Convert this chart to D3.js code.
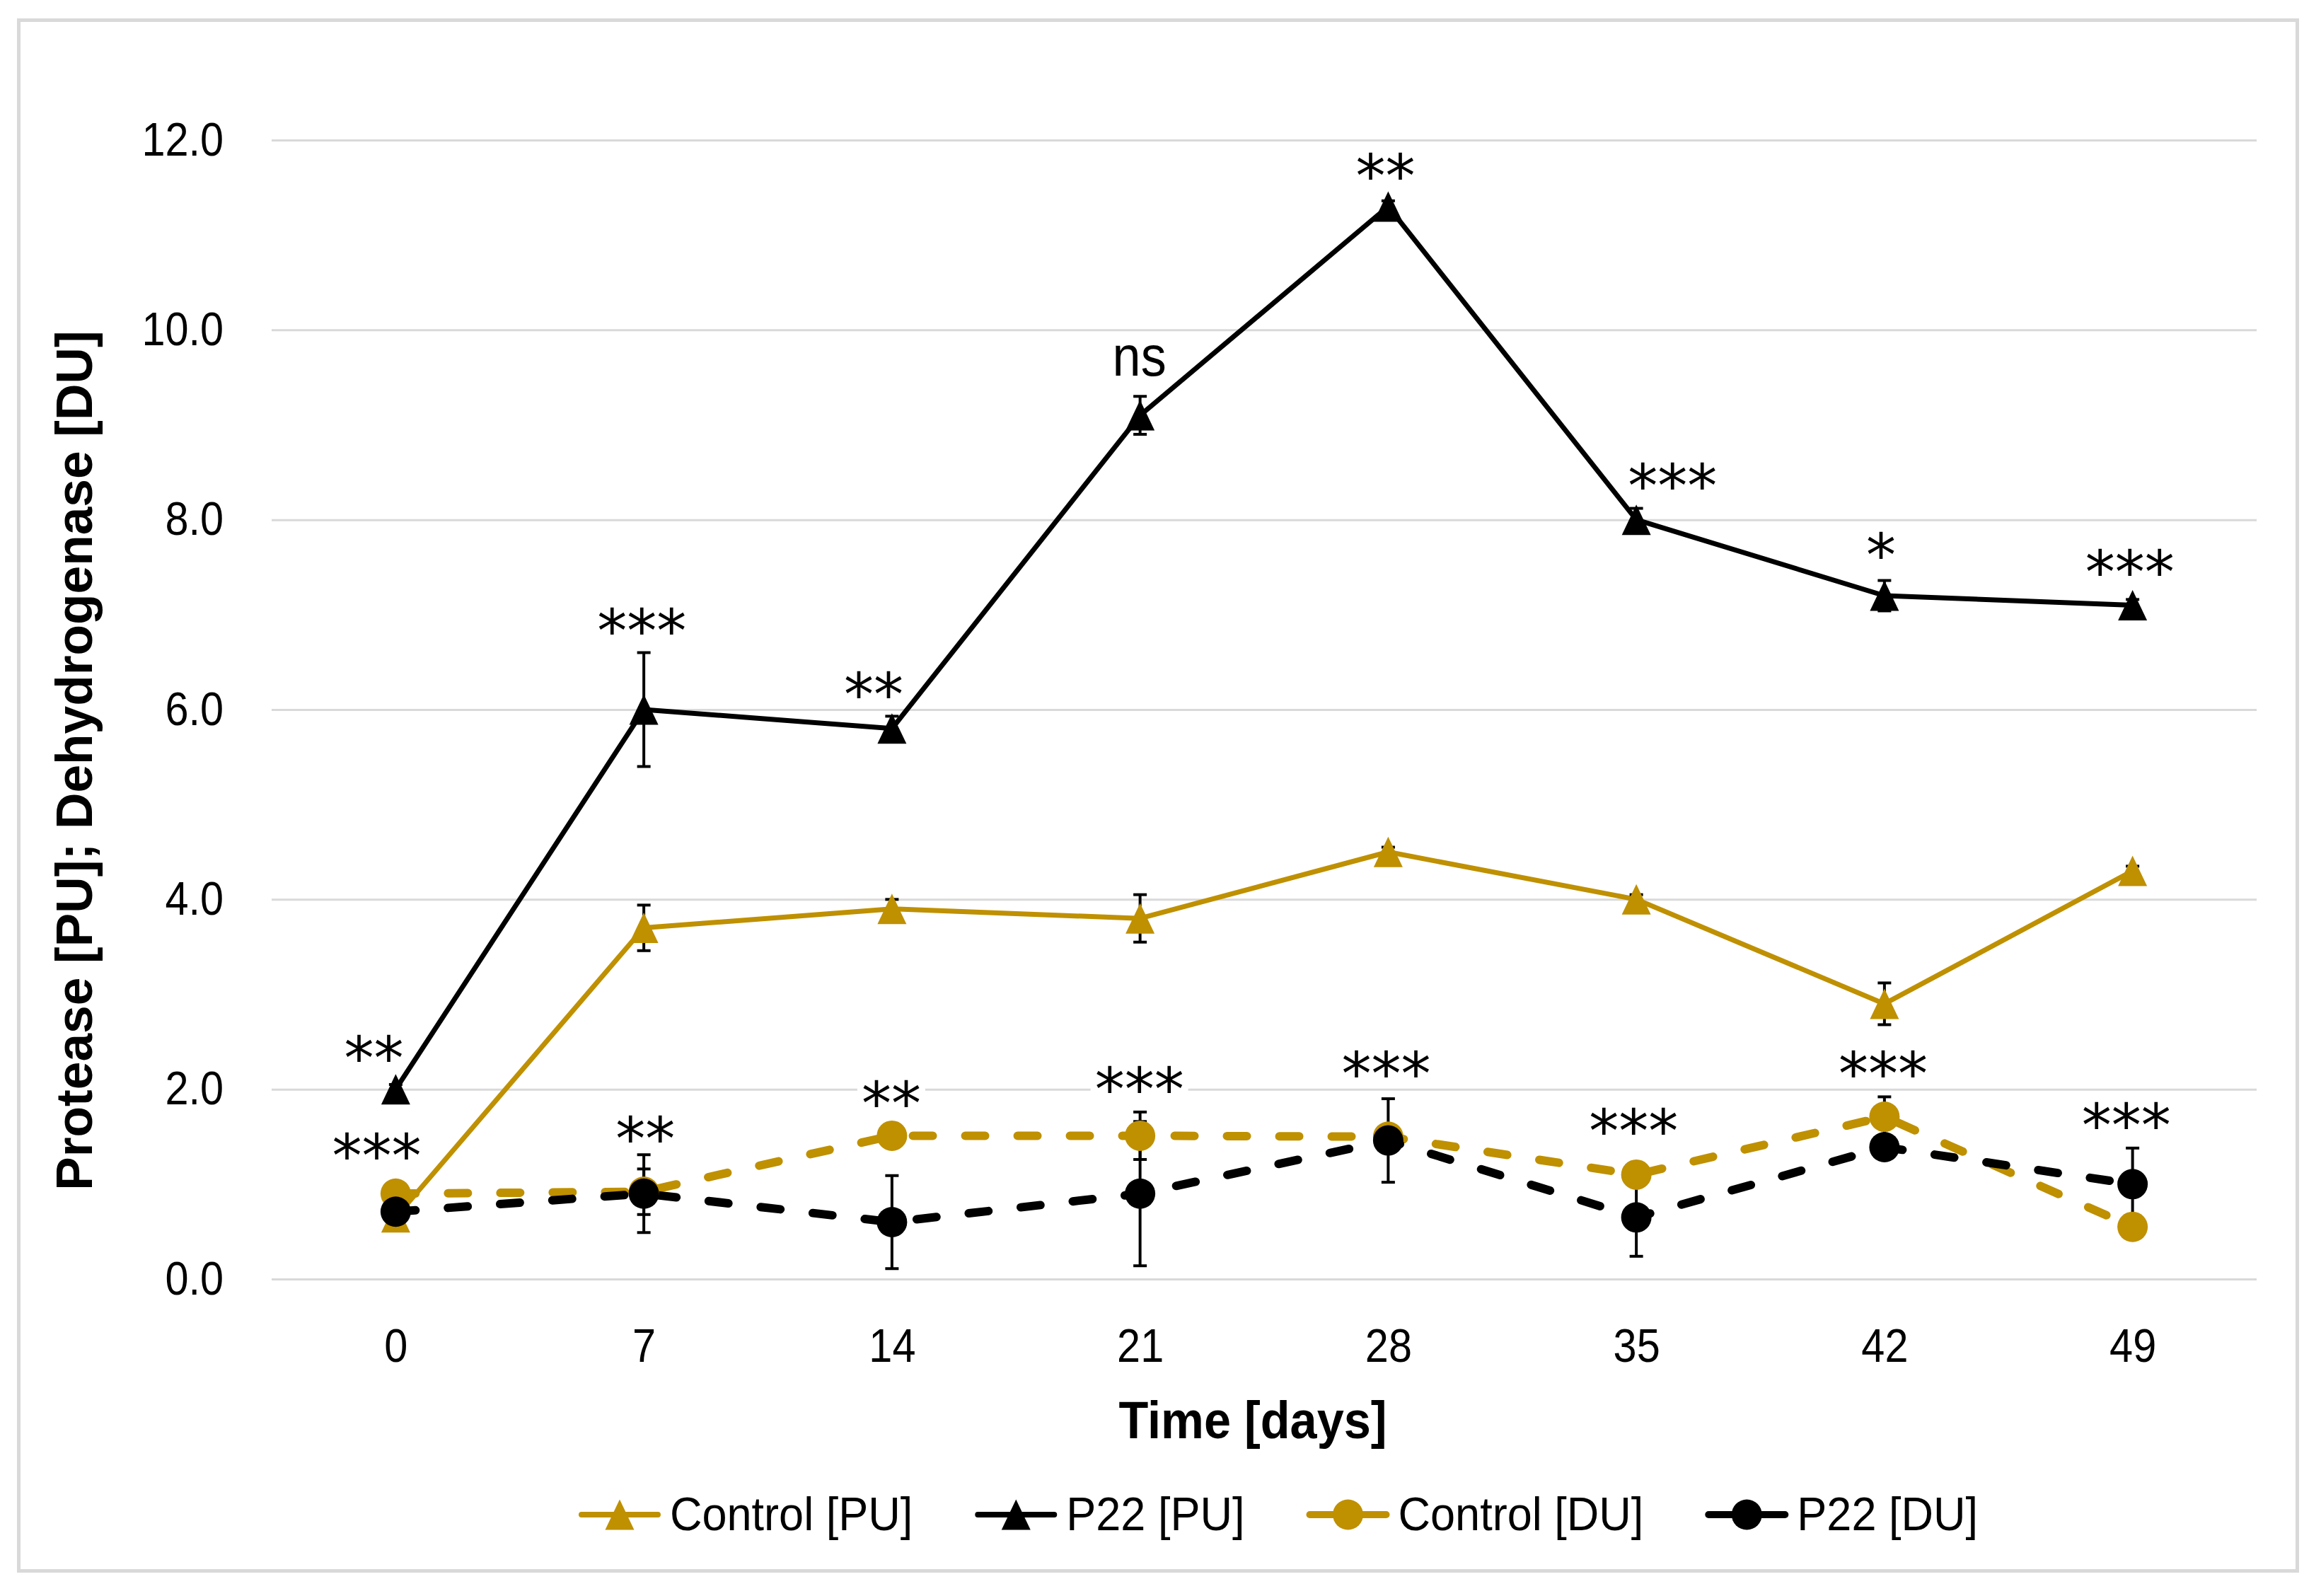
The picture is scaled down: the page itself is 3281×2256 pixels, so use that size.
<!DOCTYPE html>
<html>
<head>
<meta charset="utf-8">
<script src="https://cdn.jsdelivr.net/npm/d3@7"></script>
<style>
  html, body { margin: 0; padding: 0; background: #fff; }
  svg { display: block; }
</style>
</head>
<body>
<svg id="chart" width="3281" height="2256"></svg>
<script>
// ==========================
// DATA
// ==========================
const days = ["0", "7", "14", "21", "28", "35", "42", "49"];

const controlPU    = [0.65, 3.7, 3.9, 3.8, 4.5, 4.0, 2.9, 4.3];
const controlPUErr = [0.05, 0.24, 0.1, 0.25, 0.05, 0.05, 0.22, 0.05];
const p22PU        = [2.0, 6.0, 5.8, 9.1, 11.3, 8.0, 7.2, 7.1];
const p22PUErr     = [0.05, 0.6, 0.13, 0.2, 0.06, 0.12, 0.16, 0.06];
const controlDU    = [0.9, 0.92, 1.51, 1.51, 1.5, 1.1, 1.71, 0.55];
const controlDUErr = [0.05, 0.24, 0.05, 0.25, 0.05, 0.05, 0.21, 0.05];
const p22DU        = [0.71, 0.9, 0.6, 0.9, 1.46, 0.65, 1.39, 1.0];
const p22DUErr     = [0.05, 0.41, 0.49, 0.76, 0.44, 0.41, 0.1, 0.38];

const yTicks = [0, 2, 4, 6, 8, 10, 12];

// significance marks and the level (in y units) they sit at
const sigPU   = ["**", "***", "**", "ns", "**", "***", "*", "***"];
const sigPUAt = [2.45, 6.95, 6.28, 9.67, 11.74, 8.48, 7.75, 7.57];
const sigDU   = ["***", "**", "**", "***", "***", "***", "***", "***"];
const sigDUAt = [1.42, 1.60, 1.97, 2.12, 2.28, 1.68, 2.28, 1.74];

// small horizontal nudges of the labels (px)
const nudgePU = [-31, -3, -26, -1, -4, 51, -5, -4];
const nudgeDU = [-27, 2, -1, -1, -3, -4, -2, -9];

const GOLD = "#bf9000";
const FONT = "'Liberation Sans', Arial, sans-serif";

const series = [
    { name: "Control [PU]", values: controlPU, err: controlPUErr, color: GOLD,   shape: "tri",    dash: null },
    { name: "P22 [PU]",     values: p22PU,     err: p22PUErr,     color: "#000", shape: "tri",    dash: null },
    { name: "Control [DU]", values: controlDU, err: controlDUErr, color: GOLD,   shape: "circle", dash: "28 46" },
    { name: "P22 [DU]",     values: p22DU,     err: p22DUErr,     color: "#000", shape: "circle", dash: "28 46" }
];

// squeeze a text horizontally so it reads like the narrower original face
function condense(sel, k) {
    sel.each(function () {
        const w = this.getComputedTextLength();
        d3.select(this).attr("textLength", w * k).attr("lengthAdjust", "spacingAndGlyphs");
    });
}

// ==========================
// SETUP
// ==========================
const svg = d3.select("#chart");
const plot = { left: 384, right: 3190, top: 198, bottom: 1808 };

const x = d3.scalePoint().domain(days).range([plot.left, plot.right]).padding(0.5);
const y = d3.scaleLinear().domain([0, 12]).range([plot.bottom, plot.top]);

// outer frame
svg.append("rect")
    .attr("x", 26.5).attr("y", 28.5)
    .attr("width", 3221).attr("height", 2192)
    .attr("fill", "#fff")
    .attr("stroke", "#d9d9d9")
    .attr("stroke-width", 5);

// y axis with gridlines
const yAxis = svg.append("g")
    .attr("transform", `translate(${plot.left},0)`)
    .call(d3.axisLeft(y).tickValues(yTicks).tickFormat(d3.format(".1f"))
        .tickSizeInner(-(plot.right - plot.left)).tickSizeOuter(0).tickPadding(68));
yAxis.select(".domain").remove();
yAxis.selectAll(".tick line").attr("stroke", "#d9d9d9").attr("stroke-width", 3);
yAxis.selectAll(".tick text")
    .style("font-family", FONT).style("font-size", "66px").attr("fill", "#000")
    .call(condense, 0.9);

// x axis labels
const xAxis = svg.append("g")
    .attr("transform", `translate(0,${plot.bottom})`)
    .call(d3.axisBottom(x).tickSize(0).tickPadding(70));
xAxis.select(".domain").remove();
xAxis.selectAll(".tick text")
    .style("font-family", FONT).style("font-size", "66px").attr("fill", "#000")
    .call(condense, 0.9);

// axis titles
svg.append("text")
    .attr("transform", "translate(130,1075) rotate(-90)")
    .attr("text-anchor", "middle")
    .style("font-family", FONT).style("font-size", "73px").style("font-weight", "bold")
    .text("Protease [PU]; Dehydrogenase [DU]")
    .call(condense, 0.976);

svg.append("text")
    .attr("x", 1771).attr("y", 2033)
    .attr("text-anchor", "middle")
    .style("font-family", FONT).style("font-size", "74px").style("font-weight", "bold")
    .text("Time [days]")
    .call(condense, 0.925);

// ==========================
// SERIES
// ==========================
const triPath = "M0,-21.5L20.5,21.5L-20.5,21.5Z";

const line = d3.line().x((d, i) => x(days[i])).y(d => y(d));

const lineLayer = svg.append("g");
const errLayer = svg.append("g");
const markLayer = svg.append("g");

series.forEach(s => {
    lineLayer.append("path")
        .datum(s.values)
        .attr("d", line)
        .attr("fill", "none")
        .attr("stroke", s.color)
        .attr("stroke-width", s.dash ? 12 : 7)
        .attr("stroke-linecap", "round")
        .attr("stroke-linejoin", "round")
        .attr("stroke-dasharray", s.dash);

    s.values.forEach((v, i) => {
        const cx = x(days[i]);
        const y1 = y(v + s.err[i]);
        const y2 = y(v - s.err[i]);
        const g = errLayer.append("g").attr("stroke", "#000").attr("stroke-width", 4);
        g.append("line").attr("x1", cx).attr("x2", cx).attr("y1", y1).attr("y2", y2);
        g.append("line").attr("x1", cx - 9.5).attr("x2", cx + 9.5).attr("y1", y1).attr("y2", y1);
        g.append("line").attr("x1", cx - 9.5).attr("x2", cx + 9.5).attr("y1", y2).attr("y2", y2);
    });
});

series.forEach(s => {
    s.values.forEach((v, i) => {
        if (s.shape === "tri") {
            markLayer.append("path")
                .attr("d", triPath)
                .attr("transform", `translate(${x(days[i])},${y(v)})`)
                .attr("fill", s.color);
        } else {
            markLayer.append("circle")
                .attr("cx", x(days[i])).attr("cy", y(v)).attr("r", 21.5)
                .attr("fill", s.color);
        }
    });
});

// ==========================
// SIGNIFICANCE LABELS
// ==========================
const sigLayer = svg.append("g");

function drawSig(labels, levels, nudges) {
    labels.forEach((t, i) => {
        const cx = x(days[i]) + nudges[i];
        const cy = y(levels[i]);
        const isStar = t.includes("*");
        const fs = isStar ? 84 : 80;
        const g = sigLayer.append("g");
        const txt = g.append("text")
            .attr("x", cx)
            .attr("y", cy + (isStar ? 0.54 : 0.26) * fs)
            .attr("text-anchor", "middle")
            .style("font-family", isStar ? "'DejaVu Sans', sans-serif" : FONT)
            .style("font-size", fs + "px")
            .text(t);
        if (!isStar) txt.call(condense, 0.9);
        const w = txt.node().getComputedTextLength();
        g.insert("rect", "text")
            .attr("x", cx - w / 2 - 6).attr("width", w + 12)
            .attr("y", cy - 24).attr("height", 48)
            .attr("fill", "#fff");
    });
}
drawSig(sigPU, sigPUAt, nudgePU);
drawSig(sigDU, sigDUAt, nudgeDU);

// ==========================
// LEGEND
// ==========================
const legend = svg.append("g");
let lx = 0;
series.forEach(s => {
    const item = legend.append("g").attr("transform", `translate(${lx},0)`);
    item.append("line")
        .attr("x1", 4).attr("x2", 112).attr("y1", 0).attr("y2", 0)
        .attr("stroke", s.color)
        .attr("stroke-width", s.dash ? 10 : 8)
        .attr("stroke-linecap", "round");
    if (s.shape === "tri") {
        item.append("path").attr("d", triPath).attr("transform", "translate(58,0)").attr("fill", s.color);
    } else {
        item.append("circle").attr("cx", 58).attr("cy", 0).attr("r", 21.5).attr("fill", s.color);
    }
    const t = item.append("text")
        .attr("x", 129).attr("y", 22)
        .style("font-family", FONT).style("font-size", "66px")
        .text(s.name);
    const w = t.node().getComputedTextLength() * 0.955;
    t.attr("textLength", w).attr("lengthAdjust", "spacingAndGlyphs");
    lx += 129 + w + 88;
});
const legendWidth = lx - 88;
legend.attr("transform", `translate(${1807 - legendWidth / 2},2141)`);
</script>
</body>
</html>
